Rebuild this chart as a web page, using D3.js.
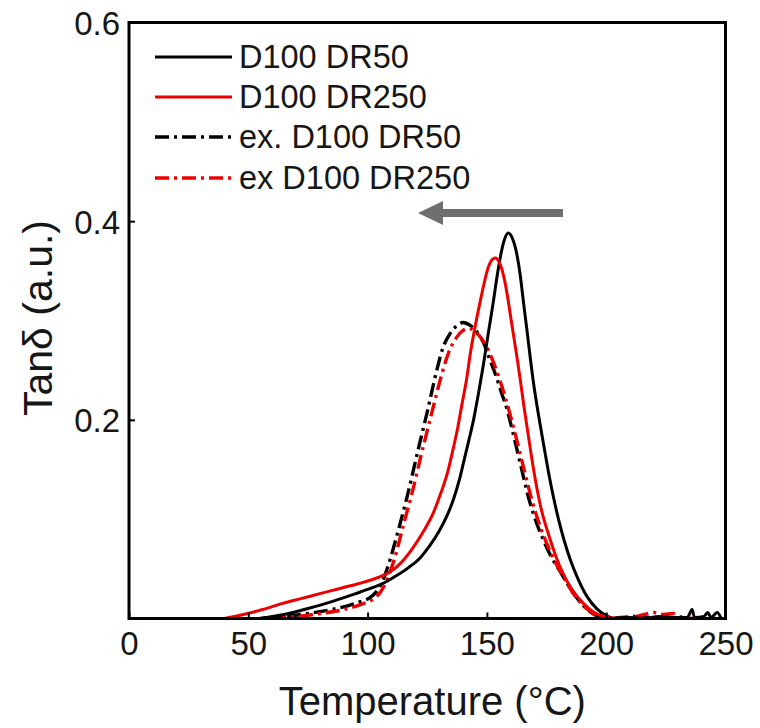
<!DOCTYPE html>
<html>
<head>
<meta charset="utf-8">
<script src="https://cdn.jsdelivr.net/npm/d3@7/dist/d3.min.js"></script>
<style>
  html, body { margin: 0; padding: 0; background: #fff; }
  svg { display: block; font-family: "Liberation Sans", Arial, sans-serif; }
</style>
</head>
<body>
<svg id="chart" width="760" height="728"></svg>
<script>
// Tan delta vs temperature for four D100 samples
const seriesNames = ["D100 DR50", "D100 DR250", "ex. D100 DR50", "ex D100 DR250"];

// [temperature (°C), tan delta]
const d100dr50 = [
  [55,0],[65,0.004],[75,0.01],[85,0.017],[95,0.025],[102,0.031],[107,0.036],[112,0.043],
  [117,0.051],[122,0.061],[126,0.073],[130,0.088],[133,0.102],[136,0.12],[138.5,0.14],
  [140.5,0.16],[142.5,0.18],[144.4,0.2],[146.5,0.227],[148.5,0.255],[150.5,0.286],
  [152.7,0.319],[154.3,0.345],[155.8,0.366],[157.3,0.381],[159,0.388],[160.8,0.382],
  [162.6,0.366],[164,0.345],[165.3,0.319],[166.8,0.29],[168.2,0.262],[169.6,0.236],
  [171,0.214],[172.4,0.194],[174,0.172],[176,0.145],[178,0.121],[180,0.1],[182.2,0.08],
  [185,0.059],[188,0.041],[192,0.022],[196,0.01],[200,0.003],[204,0],
  [210,0.001],[216,0],[222,0.002],[228,0.001],[234,0.001],[236,0.009],[237,0.001],
  [241,0.002],[242.5,0.006],[244,0.001],[246.5,0.006],[248,0.001]
];
const d100dr250 = [
  [40,0],[48,0.004],[56,0.009],[64,0.015],[72,0.02],[80,0.025],[88,0.03],[96,0.035],
  [103,0.04],[109.5,0.047],[114,0.056],[119,0.071],[123.5,0.088],[127.5,0.106],
  [130.5,0.125],[133.4,0.146],[135.5,0.167],[137.6,0.19],[139.5,0.215],[141.5,0.241],
  [143,0.266],[145,0.293],[147,0.317],[148.7,0.336],[150,0.349],[151.8,0.36],[153.5,0.363],
  [155.3,0.358],[157,0.345],[158.6,0.325],[160,0.303],[161.5,0.28],[162.8,0.26],[164,0.24],
  [165.5,0.214],[167,0.19],[169.5,0.151],[172.4,0.114],[176.6,0.079],[179,0.062],
  [182,0.045],[186,0.028],[190.5,0.015],[195,0.006],[199,0.002],[203,0]
];
const exD100dr50 = [
  [55,0],[65,0.002],[75,0.005],[85,0.009],[92,0.013],[97,0.017],[101,0.021],[104,0.028],
  [106.5,0.039],[109.5,0.06],[113,0.09],[116.6,0.123],[120.8,0.166],[125,0.208],
  [129,0.25],[131.5,0.272],[134.6,0.287],[137.5,0.295],[140,0.298],[143,0.295],
  [146,0.288],[148.5,0.278],[151,0.262],[154,0.243],[156,0.228],[158.5,0.21],[160,0.196],
  [164,0.156],[168,0.117],[171,0.095],[173.7,0.079],[177,0.062],[180.8,0.047],[185,0.03],
  [190,0.014],[195,0.004],[200,0],[206,0.001],[212,0.002],[218,0.001]
];
const exD100dr250 = [
  [60,0],[70,0.002],[80,0.005],[90,0.009],[97,0.014],[102,0.019],[105.5,0.027],
  [108.5,0.041],[111.5,0.062],[115,0.094],[118.6,0.126],[122.8,0.168],[127,0.208],
  [131,0.245],[134,0.268],[137,0.282],[140,0.29],[142.5,0.292],[145,0.289],[148,0.281],
  [151,0.268],[154,0.25],[157,0.228],[160,0.203],[163,0.175],[166,0.146],[169,0.118],
  [172,0.095],[175,0.076],[178,0.06],[182,0.042],[186,0.026],[190,0.014],[194,0.006],
  [198,0.001],[202,0],[210,0.001],[216,0.004],[220,0.006],[224,0.004],[228,0.005],
  [231,0.002],[236,0]
];

const xTicks = [0, 50, 100, 150, 200, 250];
const yTicks = [0.2, 0.4, 0.6];

const series = [
  { name: seriesNames[0], data: d100dr50,   color: "#000000", dash: null },
  { name: seriesNames[1], data: d100dr250,  color: "#ee0000", dash: null },
  { name: seriesNames[2], data: exD100dr50, color: "#000000", dash: "14,5,3,5" },
  { name: seriesNames[3], data: exD100dr250,color: "#ee0000", dash: "14,5,3,5" }
];

const svg = d3.select("#chart");
const m = { left: 129, right: 725.5, top: 22.5, bottom: 618.5 };

const x = d3.scaleLinear().domain([0, 250]).range([m.left, m.right]);
const y = d3.scaleLinear().domain([0, 0.6]).range([m.bottom, m.top]);

const plot = svg.append("g");
plot.append("clipPath").attr("id", "clip")
  .append("rect").attr("x", m.left).attr("y", m.top)
  .attr("width", m.right - m.left).attr("height", m.bottom - m.top);

const line = d3.line()
  .x(d => x(d[0])).y(d => y(d[1]))
  .curve(d3.curveMonotoneX);

// curves: dash-dot first, solid on top
const order = [2, 3, 0, 1];
plot.append("g").attr("clip-path", "url(#clip)")
  .selectAll("path").data(order.map(i => series[i])).join("path")
  .attr("d", d => line(d.data))
  .attr("fill", "none")
  .attr("stroke", d => d.color)
  .attr("stroke-width", d => d.dash ? 3.4 : 3)
  .attr("stroke-dasharray", d => d.dash)
  .attr("stroke-linejoin", "round");

// axes with inward ticks
const xAxis = d3.axisBottom(x).tickValues(xTicks).tickSize(-6).tickPadding(13).tickFormat(d3.format("d"));
const gx = svg.append("g").attr("transform", `translate(0,${m.bottom})`).call(xAxis);
const yAxis = d3.axisLeft(y).tickValues(yTicks).tickSize(-6).tickPadding(9).tickFormat(d3.format(".1f"));
const gy = svg.append("g").attr("transform", `translate(${m.left},0)`).call(yAxis);

[gx, gy].forEach(g => {
  g.select(".domain").remove();
  g.selectAll(".tick line").attr("stroke", "#000").attr("stroke-width", 2);
  g.selectAll(".tick text").attr("fill", "#161616").attr("font-size", 33)
    .attr("font-family", "Liberation Sans, Arial, sans-serif");
});
gy.selectAll(".tick text").attr("dy", "0.36em");

// frame
svg.append("rect")
  .attr("x", m.left).attr("y", m.top)
  .attr("width", m.right - m.left).attr("height", m.bottom - m.top)
  .attr("fill", "none").attr("stroke", "#000").attr("stroke-width", 3);

// axis titles
svg.append("text")
  .attr("x", (m.left + m.right) / 2 + 5).attr("y", 715)
  .attr("text-anchor", "middle").attr("font-size", 40).attr("fill", "#161616")
  .text("Temperature (°C)");
svg.append("text")
  .attr("transform", "translate(52,318) rotate(-90)")
  .attr("text-anchor", "middle").attr("font-size", 41).attr("fill", "#161616")
  .text("Tanδ (a.u.)");

// legend
const legend = svg.append("g");
const rowY = [57, 97, 137, 178];
series.forEach((s, i) => {
  legend.append("line")
    .attr("x1", 155).attr("x2", 232).attr("y1", rowY[i]).attr("y2", rowY[i])
    .attr("stroke", s.color).attr("stroke-width", s.dash ? 3.4 : 3)
    .attr("stroke-dasharray", s.dash);
  legend.append("text")
    .attr("x", 239).attr("y", rowY[i] + 11)
    .attr("font-size", 32.5).attr("fill", "#161616")
    .text(s.name);
});

// shift arrow
const arrowY = 213;
svg.append("line")
  .attr("x1", 563).attr("x2", 438).attr("y1", arrowY).attr("y2", arrowY)
  .attr("stroke", "#6f6f6f").attr("stroke-width", 8);
svg.append("path")
  .attr("d", `M418,${arrowY} L443,${arrowY - 12} L443,${arrowY + 12} Z`)
  .attr("fill", "#6f6f6f");
</script>
</body>
</html>
